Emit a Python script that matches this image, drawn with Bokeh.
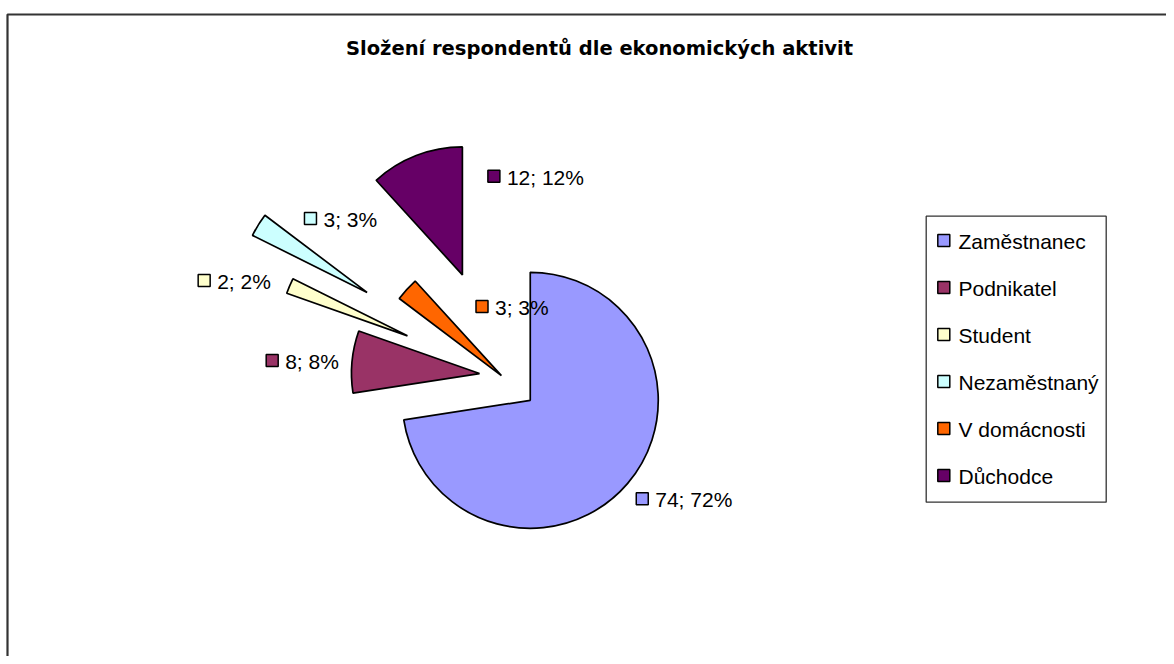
import math
from bokeh.plotting import figure
from bokeh.models import Range1d, ColumnDataSource
from bokeh.core.properties import value
from bokeh.embed import file_html
from bokeh.resources import INLINE

# ---------------- data ----------------
categories = ["Zaměstnanec", "Podnikatel", "Student", "Nezaměstnaný", "V domácnosti", "Důchodce"]
counts = [74, 8, 2, 3, 3, 12]
percent_labels = [72, 8, 2, 3, 3, 12]
colors = ["#9999FF", "#993366", "#FFFFCC", "#CCFFFF", "#FF6600", "#660066"]
title_text = "Složení respondentů dle ekonomických aktivit"

# ---------------- layout (picture pixels) ----------------
W, H = 1166, 656


def sx(X):
    return X


def sy(Y):
    return H - Y


CX, CY = 500.9, 375.1          # pie centre
R = 128                        # radius
explode = [38, 22, 102, 158, 0, 108]     # explosion distance per slice (px)
label_off = [(112, 98.5), (-207.3, -13.1), (-203.3, -55.3),
             (-56.6, -74.0), (-19.4, -69.1), (31.5, -98.7)]  # key centre relative to slice centre

FONT = value("Liberation Sans")

p = figure(width=W, height=H, x_range=Range1d(0, W), y_range=Range1d(0, H),
           output_backend="svg", toolbar_location=None, min_border=0,
           outline_line_color=None, background_fill_color="white",
           border_fill_color="white")
p.axis.visible = False
p.grid.visible = False

# chart border (left + top visible)
p.line(x=[sx(7), sx(7), sx(1300)], y=[sy(900), sy(14), sy(14)],
       line_color="#333333", line_width=2.2)

# ---------------- wedges ----------------
total = float(sum(counts))
cum = 0.0
xs, ys, starts, ends = [], [], [], []
for v, e in zip(counts, explode):
    fs = cum / total
    cum += v
    fe = cum / total
    a_start = math.pi / 2 - 2 * math.pi * fe
    a_end = math.pi / 2 - 2 * math.pi * fs
    mid = (a_start + a_end) / 2
    xs.append(sx(CX) + e * math.cos(mid))
    ys.append(sy(CY) + e * math.sin(mid))
    starts.append(a_start)
    ends.append(a_end)

src = ColumnDataSource(dict(x=xs, y=ys, start=starts, end=ends, color=colors, cat=categories))
p.wedge(x="x", y="y", radius=R, start_angle="start", end_angle="end",
        fill_color="color", line_color="black", line_width=1.7, source=src)

# ---------------- data labels ----------------
kx = [xs[i] + label_off[i][0] for i in range(len(counts))]
ky = [ys[i] - label_off[i][1] for i in range(len(counts))]
texts = [f"{v}; {pc}%" for v, pc in zip(counts, percent_labels)]
lsrc = ColumnDataSource(dict(x=kx, y=ky, tx=[k + 13 for k in kx], ty=[k - 1 for k in ky],
                             text=texts, color=colors))
p.scatter(x="x", y="y", marker="square", size=12, fill_color="color",
          line_color="black", line_width=1.5, source=lsrc)
p.text(x="tx", y="ty", text="text", text_font=FONT, text_font_size="21px",
       text_baseline="middle", text_align="left", text_color="black", source=lsrc)

# ---------------- title ----------------
p.text(x=[sx(599)], y=[sy(48)], text=[title_text], text_font=value("DejaVu Sans"),
       text_font_style="bold", text_font_size="19.5px", text_align="center",
       text_baseline="middle", text_color="black")

# ---------------- legend ----------------
LX0, LY0, LX1, LY1 = 925.7, 215.7, 1105.7, 501.7
p.quad(left=[sx(LX0)], right=[sx(LX1)], top=[sy(LY0)], bottom=[sy(LY1)],
       fill_color="white", line_color="#333333", line_width=1.3)
leg_y = [sy(240 + 47 * i) for i in range(len(categories))]
gsrc = ColumnDataSource(dict(x=[sx(943.3)] * len(categories), y=leg_y,
                             tx=[sx(958)] * len(categories), ty=[v - 1 for v in leg_y],
                             text=categories, color=colors))
p.scatter(x="x", y="y", marker="square", size=12, fill_color="color",
          line_color="black", line_width=1.5, source=gsrc)
p.text(x="tx", y="ty", text="text", text_font=FONT, text_font_size="21px",
       text_baseline="middle", text_align="left", text_color="black", source=gsrc)

open("out.html", "w").write(file_html(p, INLINE))
